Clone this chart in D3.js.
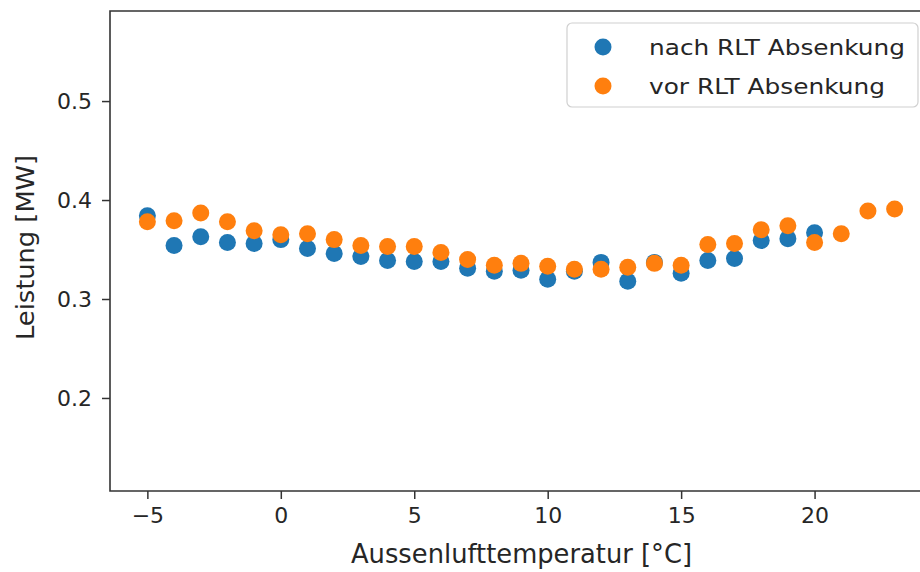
<!DOCTYPE html>
<html><head><meta charset="utf-8">
<script src="https://cdn.jsdelivr.net/npm/d3@7"></script>
<style>
html,body{margin:0;padding:0;background:#fff;}
svg text{font-family:"DejaVu Sans",sans-serif;fill:#262626;}
</style></head>
<body><svg id="c" width="920" height="572"></svg>
<script>
const temps = [-5,-4,-3,-2,-1,0,1,2,3,4,5,6,7,8,9,10,11,12,13,14,15,16,17,18,19,20,21,22,23];
const nachTemps = temps.filter(t => t <= 20);
const nachValues = [0.384,0.354,0.363,0.357,0.356,0.360,0.351,0.346,0.343,0.339,0.338,0.338,0.331,0.328,0.329,0.320,0.328,0.337,0.318,0.337,0.326,0.339,0.341,0.359,0.361,0.367];
const vorValues = [0.378,0.379,0.387,0.378,0.369,0.365,0.366,0.360,0.354,0.353,0.353,0.347,0.340,0.334,0.336,0.333,0.330,0.330,0.332,0.336,0.334,0.355,0.356,0.370,0.374,0.357,0.366,0.389,0.391];
const xTicks = [-5,0,5,10,15,20];
const yTicks = [0.2,0.3,0.4,0.5];
const seriesNames = ["nach RLT Absenkung","vor RLT Absenkung"];
const colors = ["#1f77b4","#ff7f0e"];
const xLabel = "Aussenlufttemperatur [°C]";
const yLabel = "Leistung [MW]";

const svg = d3.select("#c");
const pL = 110, pT = 11, pB = 491, pR = 932;
const x = d3.scaleLinear().domain([-6.4, 24.4]).range([pL, pR]);
const y = d3.scaleLinear().domain([0.106, 0.591]).range([pB, pT]);

// points
const nach = nachTemps.map((t,i)=>({t, v:nachValues[i]}));
const vor = temps.map((t,i)=>({t, v:vorValues[i]}));
svg.append("g").selectAll("circle").data(nach).join("circle")
  .attr("cx", d=>x(d.t)).attr("cy", d=>y(d.v)).attr("r", 8.5).attr("fill", colors[0]);
svg.append("g").selectAll("circle").data(vor).join("circle")
  .attr("cx", d=>x(d.t)).attr("cy", d=>y(d.v)).attr("r", 8.5).attr("fill", colors[1]);

// frame
svg.append("path")
  .attr("d", `M${pR},${pB}H${pL}V${pT}H${pR}`)
  .attr("fill","none").attr("stroke","#333").attr("stroke-width",1.6);

// axes
const xa = svg.append("g").attr("transform", `translate(0,${pB})`)
  .call(d3.axisBottom(x).tickValues(xTicks).tickSize(8).tickPadding(8).tickFormat(d3.format("d")));
const ya = svg.append("g").attr("transform", `translate(${pL},0)`)
  .call(d3.axisLeft(y).tickValues(yTicks).tickSize(8).tickPadding(10).tickFormat(d3.format(".1f")));
[xa, ya].forEach(a => {
  a.select(".domain").remove();
  a.selectAll(".tick line").attr("stroke","#333").attr("stroke-width",1.5);
  a.selectAll(".tick text").attr("font-size", 22).attr("font-family","DejaVu Sans").attr("fill","#262626");
});

// axis labels
svg.append("text").attr("x", (351+692)/2).attr("y", 563).attr("text-anchor","middle")
  .attr("font-size", 27).attr("textLength", 341).attr("lengthAdjust","spacingAndGlyphs").text(xLabel);
svg.append("text").attr("transform", `translate(34,${(155+340)/2}) rotate(-90)`).attr("text-anchor","middle")
  .attr("font-size", 25).attr("textLength", 185).attr("lengthAdjust","spacingAndGlyphs").text(yLabel);

// legend
const lg = svg.append("g");
lg.append("rect").attr("x",567).attr("y",23).attr("width",351).attr("height",84).attr("rx",5)
  .attr("fill","#fff").attr("fill-opacity",0.8).attr("stroke","#d0d0d0").attr("stroke-width",1.2);
seriesNames.forEach((n,i)=>{
  const cy = 47 + i*39;
  lg.append("circle").attr("cx",603).attr("cy",cy).attr("r",8.5).attr("fill",colors[i]);
  lg.append("text").attr("x",649).attr("y",cy+8).attr("font-size",22)
    .attr("textLength", i===0?256:236).attr("lengthAdjust","spacingAndGlyphs").text(n);
});
</script></body></html>
